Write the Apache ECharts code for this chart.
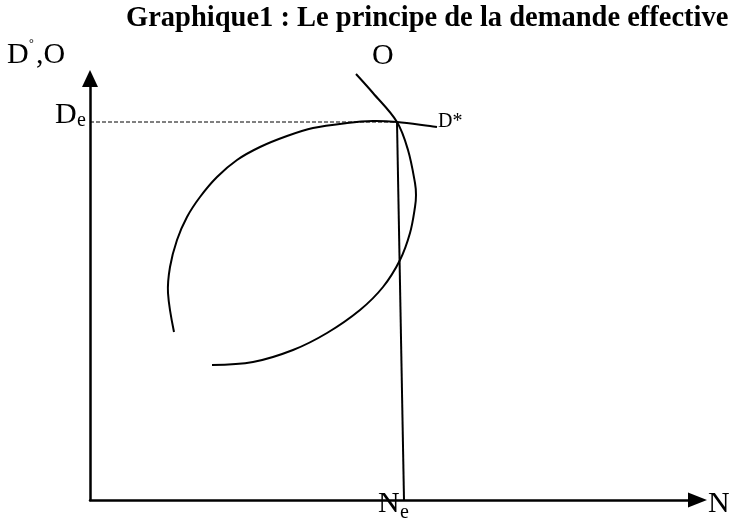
<!DOCTYPE html>
<html>
<head>
<meta charset="utf-8">
<script src="https://cdn.jsdelivr.net/npm/echarts@6/dist/echarts.min.js"></script>
<style>
  html, body { margin: 0; padding: 0; background: #fff; }
  #main { width: 731px; height: 523px; }
</style>
</head>
<body>
<div id="main"></div>
<script>
// courbe de demande D*
const demandeD = [[84,168],[78,207],[80,233],[87,260],[97,283],[110,303],[127,323],[147,340],[170,353],[197,364],[223,372],[257,377],[283,379],[307,378],[340,374],[347,373]]
// courbe d'offre O
const offreO = [[266,426],[283,407],[307,378],[318,350],[325,317],[326,305],[325,293],[320,267],[310,240],[293,213],[270,190],[237,167],[203,150],[163,138],[122,135]]
// equilibre : haut et bas du trait vers Ne
const equilibreHaut = [307, 378]
const equilibreBas = [314, 0]
const De = 378
// fin des axes (centre des flèches)
const xMax = 607.5
const yMax = 421.5

const font = 'Liberation Serif, Times New Roman, serif'

const chart = echarts.init(document.getElementById('main'))

const axisCommun = {
  type: 'value',
  min: 0,
  axisTick: { show: false },
  axisLabel: { show: false },
  splitLine: { show: false }
}

// courbe lissée passant par les points (spline, via les axes)
const courbe = (nom, pts) => ({
  name: nom,
  type: 'custom',
  data: pts,
  renderItem: (params, api) => {
    if (params.dataIndexInside !== 0) return null
    return {
      type: 'polyline',
      shape: { points: pts.map(p => api.coord(p)), smooth: 0.35 },
      style: { stroke: '#000', lineWidth: 2, fill: null }
    }
  }
})

chart.setOption({
  animation: false,
  backgroundColor: '#fff',
  title: {
    text: 'Graphique1 : Le principe de la demande effective',
    left: 126,
    top: 4,
    padding: 0,
    textStyle: { fontFamily: font, fontWeight: 'bold', fontSize: 28.5, color: '#000' }
  },
  grid: { left: 90, top: 78.5, width: 607.5, height: 421.5 },
  xAxis: Object.assign({}, axisCommun, {
    max: xMax,
    axisLine: { show: true, symbol: ['none', 'triangle'], symbolSize: [15, 19], lineStyle: { color: '#000', width: 2.5 } }
  }),
  yAxis: Object.assign({}, axisCommun, {
    max: yMax,
    axisLine: { show: true, symbol: ['none', 'triangle'], symbolSize: [16, 17], lineStyle: { color: '#000', width: 2.5 } }
  }),
  series: [
    courbe('D*', demandeD),
    courbe('O', offreO),
    {
      // pointillés De
      type: 'line',
      data: [[0, De], equilibreHaut],
      showSymbol: false,
      lineStyle: { color: '#000', width: 1, type: [4, 2] }
    },
    {
      // trait vers Ne
      type: 'line',
      data: [equilibreHaut, equilibreBas],
      showSymbol: false,
      lineStyle: { color: '#000', width: 2 }
    }
  ]
})

// textes des axes et des courbes
const px = (p) => chart.convertToPixel({ gridIndex: 0 }, p)
const pNe = px(equilibreBas)
const pDe = px([0, De])
const pDstar = px(demandeD[demandeD.length - 1])
const pO = px(offreO[0])

const txt = (text, x, y, size) => ({
  type: 'text',
  x: x, y: y,
  style: { text: text, font: size + 'px ' + font, fill: '#000', verticalAlign: 'middle' }
})

chart.setOption({
  graphic: [
    txt('D', 7, 55, 30),
    txt('°', 29, 44, 12),
    txt(',O', 36, 55, 30),
    txt('O', pO[0] + 16, 56, 30),
    txt('D', pDe[0] - 35, pDe[1] - 7, 30),
    txt('e', pDe[0] - 13, pDe[1] - 1, 20),
    txt('D*', pDstar[0] + 1, pDstar[1] - 5, 20),
    txt('N', pNe[0] - 26, 504, 30),
    txt('e', pNe[0] - 4, 513, 20),
    txt('N', 708, 504, 30)
  ]
})
</script>
</body>
</html>
